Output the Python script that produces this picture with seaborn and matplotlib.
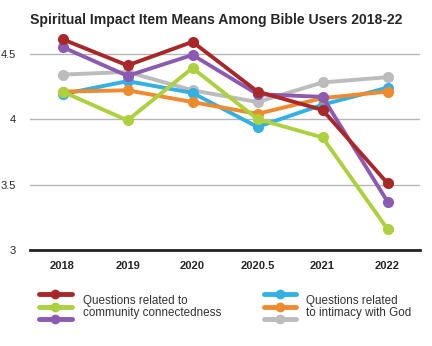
import matplotlib
matplotlib.use("Agg")
import matplotlib.pyplot as plt
from matplotlib.lines import Line2D
import seaborn as sns
import pandas as pd

years = ["2018", "2019", "2020", "2020.5", "2021", "2022"]
community_a = [4.61, 4.41, 4.59, 4.21, 4.07, 3.51]   # dark red
community_b = [4.21, 3.99, 4.39, 4.00, 3.86, 3.16]   # lime
community_c = [4.55, 4.33, 4.49, 4.19, 4.17, 3.37]   # purple
intimacy_a = [4.19, 4.29, 4.20, 3.94, 4.11, 4.24]    # blue
intimacy_b = [4.21, 4.22, 4.13, 4.04, 4.16, 4.21]    # orange
intimacy_c = [4.34, 4.36, 4.22, 4.13, 4.28, 4.32]    # gray
yticks = [3, 3.5, 4, 4.5]
ytick_labels = ["3", "3.5", "4", "4.5"]
title = "Spiritual Impact Item Means Among Bible Users 2018-22"
legend_left = "Questions related to\ncommunity connectedness"
legend_right = "Questions related\nto intimacy with God"

series = {
    "intimacy_c": intimacy_c,
    "intimacy_a": intimacy_a,
    "intimacy_b": intimacy_b,
    "community_b": community_b,
    "community_c": community_c,
    "community_a": community_a,
}
colors = {
    "community_a": "#a8282a",
    "community_b": "#acd03e",
    "community_c": "#8a5bb0",
    "intimacy_a": "#33b0e4",
    "intimacy_b": "#ef8a2e",
    "intimacy_c": "#bcbcbc",
}

rows = []
for name, vals in series.items():
    for i, v in enumerate(vals):
        rows.append({"pos": i, "value": v, "series": name})
df = pd.DataFrame(rows)

sns.set_theme(style="white")
plt.rcParams["font.family"] = ["Liberation Sans", "DejaVu Sans"]

fig = plt.figure(figsize=(4.32, 3.46), dpi=100)
ax = fig.add_axes([30 / 432, 1 - 250 / 346, 390 / 432, (250 - 34) / 346])

sns.lineplot(data=df, x="pos", y="value", hue="series", palette=colors,
             hue_order=list(series.keys()), marker="o", markersize=8,
             markeredgewidth=0, linewidth=2.8, legend=False, ax=ax)

ax.set_xlim(-0.5, len(years) - 0.5)
ax.set_ylim(3, 4.65)
ax.set_xticks(range(len(years)))
ax.set_xticklabels(years, fontweight="bold", fontsize=8)
ax.set_yticks(yticks)
ax.set_yticklabels(ytick_labels, fontsize=8)
ax.set_xlabel("")
ax.set_ylabel("")
for v in yticks[1:]:
    ax.axhline(v, color="#b5b5b5", lw=1, zorder=0)
for s in ["top", "right", "left"]:
    ax.spines[s].set_visible(False)
ax.spines["bottom"].set_color("#222222")
ax.spines["bottom"].set_linewidth(2)
ax.tick_params(axis="both", length=0, pad=8)
ax.tick_params(axis="y", pad=10)

fig.text(0.5, 1 - 20 / 346, title, ha="center", va="center",
         fontsize=10.1, fontweight="bold")

# legend
def swatch(x0, x1, y, color):
    fig.add_artist(Line2D([x0 / 432, x1 / 432], [1 - y / 346, 1 - y / 346],
                          color=color, lw=3.5, solid_capstyle="round",
                          transform=fig.transFigure))
    fig.add_artist(Line2D([(x0 + x1) / 2 / 432], [1 - y / 346], marker="o",
                          markersize=7, markeredgewidth=0, color=color,
                          transform=fig.transFigure))

for y, key in zip([294, 306.5, 319], ["community_a", "community_b", "community_c"]):
    swatch(39, 72, y, colors[key])
for y, key in zip([294, 306.5, 319], ["intimacy_a", "intimacy_b", "intimacy_c"]):
    swatch(264, 296, y, colors[key])
fig.text(83 / 432, 1 - 307 / 346, legend_left, ha="left", va="center",
         fontsize=8.4, linespacing=1.1, color="#333333")
fig.text(306 / 432, 1 - 307 / 346, legend_right, ha="left", va="center",
         fontsize=8.4, linespacing=1.1, color="#333333")

fig.savefig("out.png", dpi=100)
